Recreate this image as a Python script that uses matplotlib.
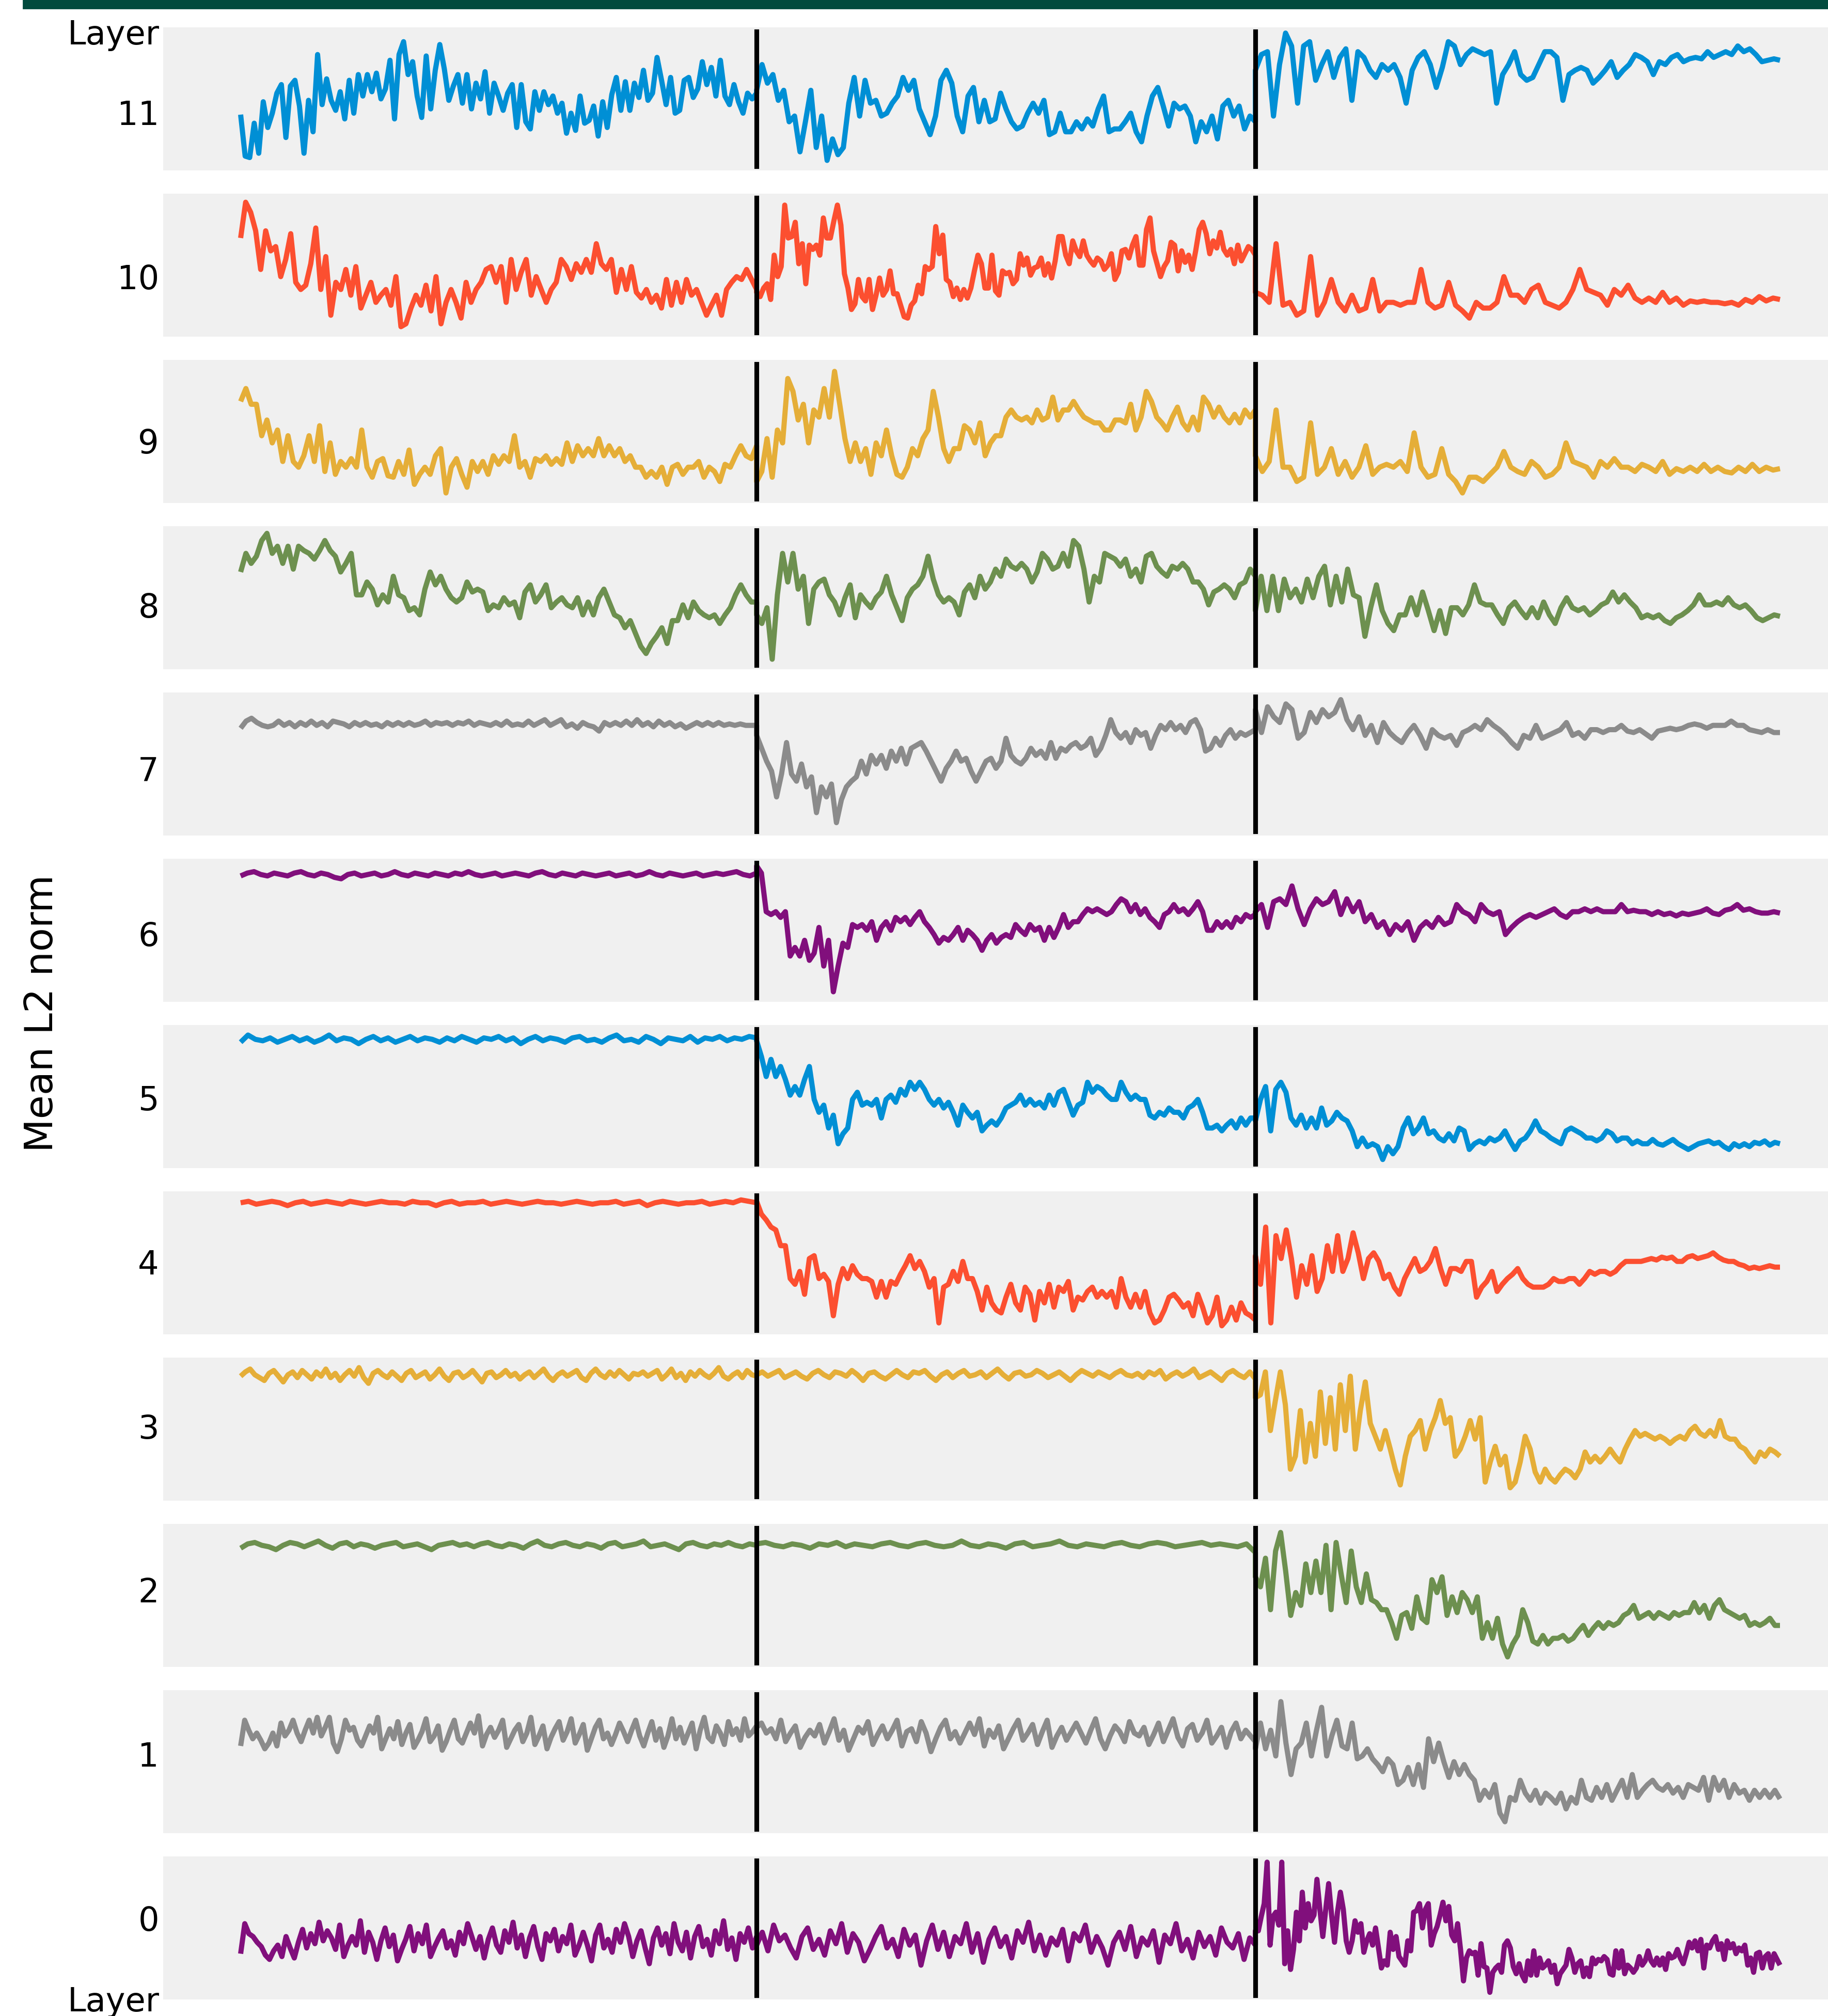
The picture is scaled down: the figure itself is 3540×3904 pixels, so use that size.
import numpy as np
import matplotlib
matplotlib.use("Agg")
import matplotlib.pyplot as plt
from matplotlib.patches import Rectangle

# ---------------- data (mean L2 norm, in % of each panel's height) ----------------
# training-step boundaries of the three phases
SEG_BOUNDS = [0, 300, 590, 895]
LAYERS = [11, 10, 9, 8, 7, 6, 5, 4, 3, 2, 1, 0]
COLORS = ['#008fd5', '#fc4f30', '#e5ae38', '#6d904f', '#8b8b8b', '#810f7c',
          '#008fd5', '#fc4f30', '#e5ae38', '#6d904f', '#8b8b8b', '#810f7c']

L11_S1 = [39,10,9,33,12,48,30,40,54,60,23,59,63,45,12,49,27,81,46,64,49,42,55,36,63,40,67,52,67,55,68,50,57,77,36,81,90,67,76,52,37,80,43,70,88,71,49,59,67,47,67,43,61,50,69,40,61,52,42,54,60,30,60,34,29,55,42,55,46,52,40,47,26,40,28,52,33,35,45,24,48,30,53,65,42,62,42,61,51,70,49,54,79,63,46,65,40,42,63,65,51,57,76,60,72,52,77,52,46,60,48,40,54,50,54]
L11_S2 = [56,74,61,67,49,56,34,38,13,34,56,16,38,7,22,11,16,47,65,38,63,47,49,38,40,47,52,65,56,63,43,34,25,38,63,70,61,38,27,52,58,34,49,34,36,54,43,34,29,31,40,47,40,49,25,27,40,27,27,34,29,36,31,43,52,27,29,29,34,40,27,20,38,52,58,45,31,47,43,45,38,20,34,27,38,22,45,49,38,45,29,38,34]
L11_S3 = [70,81,83,38,74,96,87,47,87,90,63,74,83,65,79,85,49,83,79,70,65,74,70,74,65,47,70,79,83,74,58,72,90,87,74,81,85,83,81,83,47,67,74,83,67,63,65,74,83,83,79,49,67,70,72,70,61,65,70,76,65,70,74,81,79,76,67,76,74,79,81,76,78,79,78,83,79,81,83,81,87,83,85,81,76,77,78,77]

L10_S1 = [69,94,87,74,47,74,60,63,42,54,72,38,33,36,51,76,33,56,15,38,33,47,29,49,20,29,38,24,29,33,22,42,7,9,20,29,22,36,18,42,9,24,33,24,13,38,24,33,38,47,49,38,49,24,54,33,45,54,29,42,33,24,33,38,54,49,40,51,45,54,45,65,51,47,54,31,47,33,49,31,27,33,24,29,20,40,22,38,24,40,29,33,24,15,22,29,15,33,38,42,40,47,40,33]
L10_S2 = [31,28,34,37,26,57,42,49,92,69,70,80,51,65,37,64,61,64,57,83,69,69,81,92,78,44,34,19,23,40,28,25,40,19,29,41,29,33,46,30,30,22,14,13,22,25,36,30,49,47,49,77,58,71,40,38,28,34,26,33,27,34,46,57,51,34,34,57,32,29,46,44,45,37,40,58,50,55,43,48,49,55,43,51,41,53,70,70,57,51,67,60,56,67,57,53,50,55,53,47,50,58,40,45,60,61,55,64,70,50,50,75,83,60,51,42,49,53,66,64,46,60,52,57,47,60,75,80,72,58,67,62,73,61,57,61,51,64,53,58,63,61,57]
L10_S3 = [31,29,24,65,22,24,15,18,56,15,24,40,24,18,29,18,20,40,18,24,24,22,24,24,47,24,20,22,38,22,18,13,24,20,20,24,42,29,29,24,33,36,24,22,20,24,33,47,33,31,29,22,33,29,36,27,24,27,24,31,24,27,22,25,24,25,24,24,23,24,22,26,24,28,25,27,26]

L9_S1 = [71,80,69,69,47,58,42,51,29,47,29,25,33,47,29,54,22,42,20,29,25,31,25,51,25,18,29,31,19,18,29,20,37,13,20,25,20,33,38,7,25,31,20,11,29,22,29,20,33,27,33,29,47,25,29,18,31,29,33,27,31,27,42,29,40,33,38,33,45,33,40,33,38,29,33,25,25,18,22,18,25,13,25,27,20,25,25,29,18,25,22,15,27,25,33,40,33,31,40]
L9_S2 = [15,22,45,18,51,42,87,78,58,69,42,65,60,80,60,92,69,45,29,42,29,38,20,42,33,51,33,20,18,25,38,33,45,51,78,60,38,29,38,38,54,51,42,56,33,42,47,47,60,65,60,58,60,56,65,58,60,74,58,65,65,71,65,60,58,56,56,51,51,58,58,56,69,51,60,78,71,60,56,51,60,67,56,51,60,51,74,69,60,67,60,56,62,56,65,60,65]
L9_S3 = [33,22,29,65,25,25,15,18,56,20,25,38,20,29,18,25,40,20,25,27,25,29,22,49,25,18,20,38,20,15,7,18,18,15,20,25,36,25,22,20,29,25,18,20,25,42,29,27,25,18,29,25,31,25,25,22,27,25,22,29,20,24,22,25,22,27,22,25,22,21,25,22,27,22,25,23,24]

L8_S1 = [68,81,74,79,90,95,81,86,74,86,70,86,83,81,77,83,90,83,79,68,74,81,52,52,61,56,45,52,47,65,52,50,41,43,38,56,68,59,65,56,50,47,50,61,54,56,54,41,45,43,50,45,47,36,54,59,47,52,59,43,47,50,45,43,50,38,47,38,50,56,47,38,36,29,34,25,16,11,18,23,29,18,34,34,45,36,47,41,38,36,38,32,38,43,52,59,52,47,47]
L8_S2 = [38,32,43,7,52,81,61,81,56,65,32,56,61,63,52,47,38,50,59,36,52,47,43,50,54,65,52,43,34,50,56,59,65,79,63,52,47,50,47,38,54,59,50,65,56,61,70,65,77,72,70,74,70,61,68,81,77,70,72,81,72,90,86,70,47,65,61,81,79,77,72,77,65,70,61,79,81,72,68,65,72,70,74,70,61,61,56,45,54,56,59,56,50,59,61,70,65]
L8_S3 = [41,65,41,65,41,63,50,56,47,63,50,65,72,45,65,47,70,52,50,23,43,59,41,32,27,38,38,50,38,54,41,27,41,25,43,43,38,45,59,47,45,45,38,32,43,47,41,36,43,36,47,38,32,43,50,43,41,43,38,41,45,47,54,47,52,47,43,36,38,36,38,34,32,36,38,41,45,52,45,45,47,45,50,45,43,45,41,36,34,36,38,37]

L7_S1 = [75,80,82,79,77,76,77,80,77,79,76,79,77,80,77,79,76,80,79,78,76,79,77,79,77,78,76,79,77,79,77,79,77,78,80,77,79,78,79,77,79,78,80,77,79,78,77,79,77,80,77,78,77,80,77,79,81,77,79,81,76,78,75,79,77,76,73,79,77,79,77,80,77,81,77,79,76,80,77,79,76,78,75,77,79,77,79,77,79,77,78,77,78,77,77,77]
L7_S2 = [70,61,52,45,27,43,65,43,38,50,34,41,16,34,27,36,9,25,34,38,41,52,43,56,50,56,47,59,52,61,50,61,63,65,59,52,45,38,47,52,59,52,54,45,38,45,52,54,47,52,68,56,52,50,54,61,56,59,54,65,54,61,59,63,65,61,63,68,56,61,70,81,72,68,72,65,74,70,72,61,70,77,74,79,74,77,72,79,81,74,59,61,68,63,70,74,68,72,70,72,74]
L7_S3 = [88,72,90,83,79,92,88,68,72,86,79,88,83,86,95,81,74,83,70,77,65,79,72,68,65,72,77,70,61,74,70,68,70,63,72,74,77,74,81,77,74,70,65,61,70,68,77,68,70,72,74,79,70,72,68,74,74,72,74,74,77,73,72,74,71,68,73,74,75,74,75,77,78,77,75,77,77,77,80,77,77,74,73,72,74,72,72]

L6_S1 = [88,90,91,89,88,90,89,88,90,91,89,88,90,89,87,86,89,90,88,89,90,88,89,91,89,88,90,89,88,90,89,88,90,89,91,89,88,89,90,88,89,90,89,88,90,91,89,88,90,89,88,90,89,88,89,90,88,89,90,88,89,91,89,88,90,89,88,89,90,88,89,90,89,90,91,89,88,90]
L6_S2 = [95,90,63,61,63,59,63,32,38,32,43,29,34,52,25,43,7,25,41,38,54,52,54,50,56,43,52,56,50,59,56,59,54,59,63,56,52,47,41,45,43,47,52,43,50,47,43,36,43,47,41,45,47,45,54,50,47,54,50,52,43,52,45,52,61,52,56,56,61,65,63,65,63,61,63,68,72,70,63,68,61,65,59,56,52,61,63,68,63,65,61,65,70,63,50,50,56,52,56,52,59,56,61,59,61]
L6_S3 = [63,68,52,70,72,68,81,65,54,65,72,68,70,77,61,72,63,70,56,61,52,56,47,54,50,56,43,52,56,52,59,54,56,68,63,61,56,68,63,61,63,47,52,56,59,61,59,61,63,65,61,59,63,63,65,63,65,63,63,63,68,63,64,63,63,61,63,61,62,60,62,61,62,63,65,62,61,64,65,68,64,65,63,62,62,63,62]

L5_S1 = [88,93,90,89,91,88,90,92,89,91,88,90,93,89,91,90,87,90,92,89,91,88,90,92,89,91,90,88,91,89,92,90,88,91,90,92,89,91,87,90,92,89,91,90,88,91,92,89,90,88,91,93,89,90,88,92,90,87,91,90,89,92,88,91,90,92,89,91,90,92,91]
L5_S2 = [89,78,64,76,64,71,62,51,57,51,62,71,48,39,44,28,37,17,24,28,48,53,44,46,44,48,35,48,51,46,55,51,60,55,60,55,48,44,48,42,46,39,30,44,39,35,39,26,30,33,30,35,42,44,46,51,44,48,44,46,42,51,44,53,55,46,37,44,46,60,53,57,55,51,48,48,60,53,48,51,48,48,37,35,39,37,42,39,39,35,42,44,48,39,28,28,30,26,30,33,28,35,30,35,35]
L5_S3 = [33,48,57,26,55,60,53,35,30,37,28,35,28,42,30,33,39,35,33,26,15,21,15,17,15,6,15,10,15,28,35,24,28,35,24,26,21,19,24,19,28,26,13,17,19,17,21,19,21,26,19,13,19,21,26,33,26,24,21,19,17,26,28,26,24,21,21,19,21,26,24,19,21,21,17,19,17,17,20,17,16,18,20,17,15,13,15,17,18,19,17,18,15,13,17,15,17,15,18,17,19,16,18,17]

L4_S1 = [92,93,91,92,93,92,90,92,93,91,92,93,92,91,93,92,91,92,93,92,92,91,93,92,92,90,92,93,91,92,92,93,91,92,93,92,91,92,93,92,92,91,92,93,92,91,92,92,93,91,92,93,90,92,93,92,91,92,92,93,91,92,93,92,94,93,92]
L4_S2 = [93,84,80,75,73,62,62,39,35,44,28,53,55,39,42,37,13,35,46,39,48,42,39,39,37,26,37,26,37,35,42,48,55,46,51,44,33,39,8,33,35,44,37,51,39,39,30,17,33,22,17,15,26,35,22,17,33,28,10,30,22,35,19,33,30,37,17,26,24,30,33,26,30,26,30,19,39,26,19,28,19,30,15,8,10,17,26,28,24,19,22,13,28,19,8,13,26,6,10,19,10,22,15,13,10]
L4_S3 = [55,35,75,8,69,53,73,53,26,48,35,55,30,39,62,44,69,44,53,71,57,39,53,57,51,39,42,33,28,39,46,53,44,46,51,60,46,35,46,46,44,51,51,26,33,37,44,30,35,39,42,46,39,35,33,33,33,35,39,37,37,39,39,35,39,44,42,44,44,42,44,48,51,51,51,51,52,53,52,54,53,54,51,51,54,55,53,54,55,57,54,52,51,51,49,48,46,47,46,47,48,47,47]

L3_S1 = [87,90,92,88,86,84,89,91,87,83,88,90,86,91,88,85,90,87,92,86,89,84,88,91,87,93,86,82,89,91,88,86,90,87,84,89,91,86,88,90,85,88,92,87,84,89,90,86,88,91,87,83,89,90,86,88,91,87,89,85,88,90,86,89,92,87,84,88,90,87,89,91,86,84,89,92,88,86,90,87,91,88,85,89,88,90,87,89,91,85,88,92,86,89,84,90,87,91,88,86,89,93,87,85,88,90,86,91,88,87]
L3_S2 = [88,90,87,89,91,86,88,90,87,85,89,91,88,86,90,89,87,91,88,84,89,90,87,85,88,91,88,86,90,89,91,87,84,88,90,86,89,91,87,88,90,86,89,92,88,85,89,90,87,88,91,89,86,88,90,87,84,88,91,89,87,90,88,86,89,91,88,87,89,86,90,88,91,85,88,90,87,89,92,86,88,90,87,84,89,91,88,86,90,85]
L3_S3 = [72,74,90,49,70,90,67,22,31,63,27,54,31,76,40,72,36,81,49,87,36,63,83,54,45,36,49,36,22,11,31,45,49,56,36,49,58,70,54,58,31,36,45,56,43,58,13,27,38,25,31,9,13,27,45,36,20,13,22,16,13,18,22,20,16,22,34,27,31,27,31,36,31,27,36,43,49,45,47,45,43,45,43,40,43,45,43,49,52,47,45,49,45,56,45,43,43,38,36,31,27,34,31,36,34,31]

L2_S1 = [83,86,87,85,84,82,85,87,86,84,86,88,85,83,86,87,84,86,85,83,85,86,87,84,85,86,84,82,85,86,87,85,86,84,86,87,85,84,86,85,83,86,88,85,84,86,87,85,84,86,85,83,86,87,84,85,86,88,84,85,86,84,82,86,87,85,84,86,85,87,85,84,86,85]
L2_S2 = [86,87,85,84,86,85,83,86,85,87,84,86,85,84,86,87,85,84,86,87,85,84,85,88,85,84,86,85,83,86,87,84,85,86,88,85,84,86,85,84,86,87,85,84,86,87,86,84,85,86,87,85,86,85,84,86,80]
L2_S3 = [63,56,76,40,81,94,67,36,52,43,72,52,74,52,85,40,87,65,45,81,56,45,65,47,45,40,40,31,20,36,38,27,49,34,31,61,52,63,36,49,38,52,47,38,49,20,31,20,34,16,7,16,22,40,31,18,16,22,16,20,20,22,18,20,25,29,22,27,31,27,31,29,31,36,38,43,34,36,38,34,38,36,34,38,36,38,38,45,38,43,34,43,47,40,38,36,34,36,29,31,29,31,34,29,29]

L1_S1 = [61,79,72,66,70,65,59,63,70,61,77,68,72,79,70,64,72,79,70,81,68,74,81,63,57,66,79,72,74,65,61,68,75,70,81,59,66,73,66,78,62,70,76,60,65,71,80,64,68,75,58,64,72,79,66,63,70,77,70,82,61,69,74,67,72,79,60,66,72,76,64,70,81,62,68,75,59,67,73,78,65,71,80,63,69,76,58,66,74,79,66,70,62,69,77,71,64,72,79,68,61,70,78,65,73,60,68,80,66,74,63,70,77,59,72,81,67,64,75,70,62,78,69,73,65,80,68,71,75]
L1_S2 = [74,77,70,73,66,79,64,70,75,60,67,72,68,76,63,71,80,65,72,58,66,74,70,78,62,69,75,66,72,79,61,71,73,64,78,70,57,66,74,79,66,71,63,70,77,69,80,61,72,67,75,59,66,73,79,65,70,76,62,71,79,60,68,74,65,71,77,70,63,72,80,66,59,68,75,71,64,78,70,68,74,62,69,77,64,72,80,67,61,73,76,65,70,79,63,68,74,60,71,77,66,72,68,64]
L1_S3 = [59,77,59,72,54,92,63,41,59,63,77,54,72,88,54,68,79,61,59,77,52,54,59,52,48,43,52,48,34,37,46,34,48,32,66,50,63,50,39,50,41,48,41,37,23,30,25,34,14,8,25,23,37,28,23,30,21,28,25,21,28,17,25,21,37,25,23,32,25,34,23,30,37,25,41,25,30,34,37,32,30,34,28,32,25,34,32,30,39,23,39,30,37,25,34,28,30,23,30,25,30,25,30,24]

L0_S1 = [32,53,46,44,40,37,31,28,34,38,30,44,36,29,40,49,36,46,39,54,41,48,43,35,52,30,38,44,38,55,33,47,40,28,41,50,37,45,27,35,42,51,34,46,39,52,30,37,43,48,36,41,31,47,39,53,44,35,44,29,42,50,38,33,48,40,54,36,45,30,43,51,37,28,46,41,49,34,44,39,52,31,38,47,38,27,45,52,36,42,33,49,40,53,44,30,41,48,36,25,43,50,38,46,32,53,40,34,47,29,44,51,37,42,31,48,39,55,35,43,28,46,40,50,36,44]
L0_S2 = [38,47,34,52,41,45,36,29,44,50,35,42,31,48,39,53,33,46,40,27,35,44,51,36,42,30,49,38,45,24,41,52,35,47,30,44,39,53,33,46,26,42,50,37,44,29,48,40,54,34,45,31,43,38,49,27,46,41,52,33,44,36,24,40,47,35,51,30,43,38,48,26,45,39,53,34,42,29,47,37,44,31,50,40,36,46,28,43,38]
L0_S3 = [48,48,58,67,96,38,58,61,52,96,25,48,21,35,61,41,75,50,67,55,59,84,63,44,63,81,59,40,61,75,63,41,33,41,55,47,53,33,41,46,38,50,36,22,27,24,47,35,44,30,27,24,41,34,61,62,67,50,63,67,38,46,51,59,68,55,65,45,41,53,35,13,29,34,32,33,17,39,23,22,5,19,22,24,19,38,41,36,23,18,25,17,13,27,17,34,17,29,22,24,27,19,24,11,18,21,24,35,29,19,25,27,16,22,16,29,25,28,27,30,28,18,17,34,22,34,18,24,22,19,22,30,24,27,34,27,24,29,24,29,21,32,29,30,35,29,25,32,40,36,41,34,42,22,38,36,41,44,35,39,28,41,36,39,32,36,34,38,24,29,19,32,33,22,30,32,22,32,28,24]

SERIES = {
    11: (L11_S1, L11_S2, L11_S3), 10: (L10_S1, L10_S2, L10_S3),
    9: (L9_S1, L9_S2, L9_S3), 8: (L8_S1, L8_S2, L8_S3),
    7: (L7_S1, L7_S2, L7_S3), 6: (L6_S1, L6_S2, L6_S3),
    5: (L5_S1, L5_S2, L5_S3), 4: (L4_S1, L4_S2, L4_S3),
    3: (L3_S1, L3_S2, L3_S3), 2: (L2_S1, L2_S2, L2_S3),
    1: (L1_S1, L1_S2, L1_S3), 0: (L0_S1, L0_S2, L0_S3),
}

# ---------------- layout ----------------
W, H, DPI = 3541, 3904, 200
fig = plt.figure(figsize=(W / DPI, H / DPI), dpi=DPI, facecolor='white')

AX_LEFT_PX = 316
PANEL_TOP0 = 53
PANEL_H = 277
PANEL_STEP = 322
DATA_X0_PX, DATA_X1_PX = 466, 3447
LABEL_TOP_PX, LABEL_BOT_PX = 219, 3716   # vertical centres of labels "11" and "0"
LABEL_FS = 23

px_per_step = (DATA_X1_PX - DATA_X0_PX) / (SEG_BOUNDS[-1] - SEG_BOUNDS[0])
xlim = (SEG_BOUNDS[0] - (DATA_X0_PX - AX_LEFT_PX) / px_per_step,
        SEG_BOUNDS[-1] + (W - DATA_X1_PX) / px_per_step)

for k, (layer, color) in enumerate(zip(LAYERS, COLORS)):
    top = PANEL_TOP0 + k * PANEL_STEP
    ax = fig.add_axes([AX_LEFT_PX / W, 1 - (top + PANEL_H) / H,
                       1 - AX_LEFT_PX / W, PANEL_H / H])
    ax.set_facecolor('#f0f0f0')
    for s in ax.spines.values():
        s.set_visible(False)
    ax.set_xticks([])
    ax.set_yticks([])
    xs, ys = [], []
    for i, seg in enumerate(SERIES[layer]):
        xs.append(np.linspace(SEG_BOUNDS[i], SEG_BOUNDS[i + 1], len(seg)))
        ys.append(np.asarray(seg, dtype=float))
    ax.plot(np.concatenate(xs), np.concatenate(ys), color=color, lw=3.6,
            solid_joinstyle='round', solid_capstyle='butt')
    for b in SEG_BOUNDS[1:3]:
        ax.axvline(b, ymin=0.03, ymax=0.97, color='black', lw=3.3)
    ax.set_xlim(*xlim)
    ax.set_ylim(0, 100)

    # layer number, evenly spaced down the left margin
    centre = LABEL_TOP_PX + (11 - layer) * (LABEL_BOT_PX - LABEL_TOP_PX) / 11
    em_px = LABEL_FS * DPI / 72
    baseline = centre + 0.3645 * em_px
    fig.text((AX_LEFT_PX - 8) / W, 1 - baseline / H, str(layer),
             ha='right', va='baseline', fontsize=LABEL_FS, color='black')

fig.text((AX_LEFT_PX - 7) / W, 1 - 86 / H, 'Layer', ha='right', va='baseline',
         fontsize=23, color='black')
fig.text((AX_LEFT_PX - 7) / W, 1 - 3895 / H, 'Layer', ha='right', va='baseline',
         fontsize=23, color='black')
fig.text(82 / W, 1 - 1962 / H, 'Mean L2 norm', rotation=90, ha='center',
         va='center', fontsize=27, color='black')

fig.patches.append(Rectangle((45 / W, 1 - 16 / H), 1 - 45 / W, 16 / H,
                             transform=fig.transFigure, color='#024b3e',
                             zorder=5))

fig.savefig('out.png', dpi=DPI, facecolor='white')
